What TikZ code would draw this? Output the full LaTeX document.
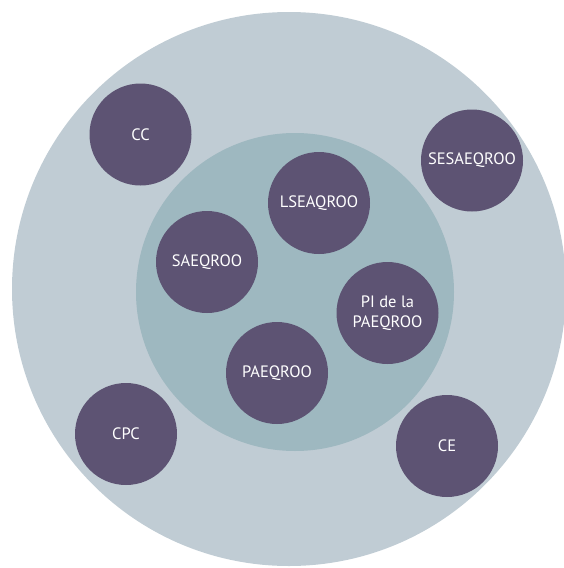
\documentclass[tikz,border=0pt]{standalone}
\usepackage{fontspec}
\setmainfont{PT Sans}
\definecolor{outerfill}{HTML}{C0CCD4}
\definecolor{innerfill}{HTML}{9EB8C0}
\definecolor{orgfill}{HTML}{5D5373}
\begin{document}
\begin{tikzpicture}[x=1pt,y=-1pt,
    org/.style={circle,fill=orgfill,minimum size=102pt,inner sep=0pt,
      text=white,align=center,font=\fontsize{16.5}{20}\selectfont},
    ring/.style={circle,inner sep=0pt}]
  \clip (0,0) rectangle (564,568);
  \useasboundingbox (0,0) rectangle (564,568);
  \path
    (289,289) node[ring,fill=outerfill,minimum size=554pt] (outer){}
    (295,292) node[ring,fill=innerfill,minimum size=318pt] (inner){};
  \path
    (140.5,134.5) node[org] (cc){CC}
    (472,160.5) node[org] (sesaeqroo){SESAEQROO}
    (319,203) node[org] (lseaqroo){LSEAQROO}
    (207,262) node[org] (saeqroo){SAEQROO}
    (387.5,313) node[org] (pi){PI de la\\PAEQROO}
    (277,373) node[org] (paeqroo){PAEQROO}
    (126,434) node[org] (cpc){CPC}
    (447,446) node[org] (ce){CE};
\end{tikzpicture}
\end{document}
